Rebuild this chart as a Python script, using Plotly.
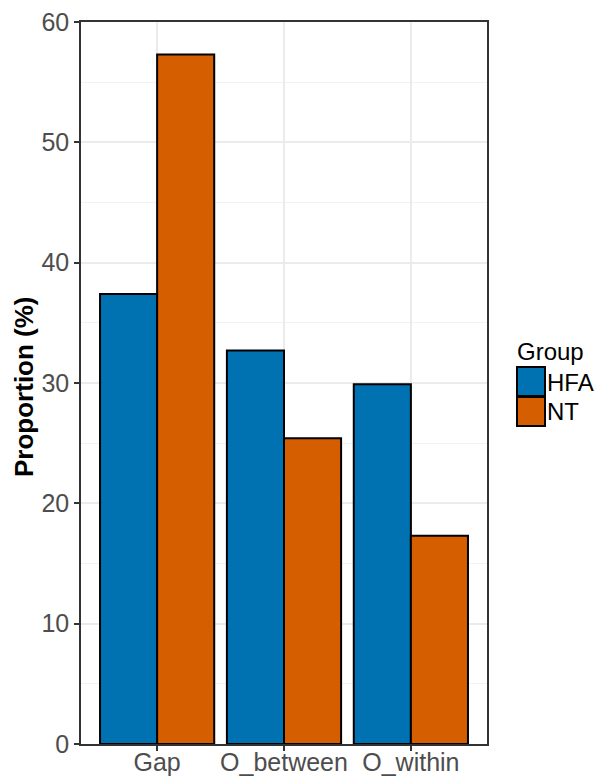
import plotly.graph_objects as go

categories = ["Gap", "O_between", "O_within"]
groups = ["HFA", "NT"]
hfa_values = [37.4, 32.7, 29.9]
nt_values = [57.3, 25.4, 17.3]
colors = {"HFA": "#0072B2", "NT": "#D55E00"}

FONT = "Liberation Sans, Arial, sans-serif"
fig = go.Figure()
for name, vals in zip(groups, [hfa_values, nt_values]):
    fig.add_trace(go.Bar(
        x=categories, y=vals, name=name,
        marker=dict(color=colors[name], line=dict(color="black", width=2)),
        showlegend=False,
    ))

L, R, T, B = 81, 487, 22, 744
W, H = 601, 778
def px(x):
    return (x - L) / (R - L)
def py(y):
    return (B - y) / (B - T)

fig.update_layout(
    width=W, height=H,
    margin=dict(l=L, r=W - R, t=T, b=H - B, pad=0, autoexpand=False),
    barmode="group", bargap=0.1, bargroupgap=0,
    plot_bgcolor="white", paper_bgcolor="white",
    font=dict(family=FONT, size=25, color="#4d4d4d"),
    showlegend=False,
)
fig.update_xaxes(
    type="category", range=[-0.6, 2.6], automargin=False,
    showline=True, mirror=True, linecolor="#333333", linewidth=1.5,
    showgrid=True, gridcolor="#ebebeb", gridwidth=1.5,
    ticks="outside", ticklen=5, tickwidth=1.5, tickcolor="#333333",
    tickfont=dict(size=25, color="#4d4d4d"),
    ticklabelstandoff=-10,
)
fig.update_yaxes(
    range=[0, 60], dtick=10, tick0=0, automargin=False,
    showline=True, mirror=True, linecolor="#333333", linewidth=1.5,
    showgrid=True, gridcolor="#ebebeb", gridwidth=1.5,
    minor=dict(dtick=5, showgrid=True, gridcolor="#f2f2f2", gridwidth=0.8),
    ticks="outside", ticklen=5, tickwidth=1.5, tickcolor="#333333",
    tickfont=dict(size=25, color="#4d4d4d"),
    zeroline=False,
)
fig.add_annotation(
    text="<b>Proportion (%)</b>", textangle=-90,
    xref="paper", yref="paper", x=px(24), y=py(387),
    xanchor="center", yanchor="middle", showarrow=False,
    font=dict(family=FONT, size=26, color="black"),
)
# legend
fig.add_annotation(
    text="Group", xref="paper", yref="paper", x=px(515), y=py(351),
    xanchor="left", yanchor="middle", showarrow=False,
    font=dict(family=FONT, size=24, color="black"),
)
key_tops = [367, 397]
for g, top in zip(groups, key_tops):
    fig.add_shape(
        type="rect", xref="paper", yref="paper",
        x0=px(517), x1=px(545), y0=py(top + 29), y1=py(top),
        fillcolor=colors[g], line=dict(color="black", width=2),
    )
    fig.add_annotation(
        text=g, xref="paper", yref="paper", x=px(545), y=py(top + 15),
        xanchor="left", yanchor="middle", showarrow=False,
        font=dict(family=FONT, size=24, color="black"),
    )

fig.write_html(
    "out.html",
    config={"displayModeBar": False},
    post_script="document.body.style.margin='0';document.body.style.overflow='hidden';",
)
